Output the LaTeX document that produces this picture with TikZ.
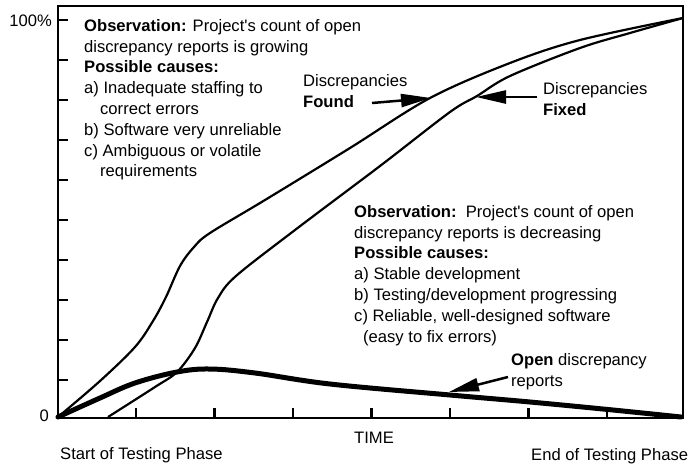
\documentclass[tikz,border=0pt]{standalone}
\usepackage{fontspec}
\setmainfont{Liberation Sans}
\usepackage{tikz}
\usetikzlibrary{arrows.meta}

\begin{document}
\begin{tikzpicture}[x=1pt,y=-1pt]
% Styles (MODIFIABLES)
\tikzstyle{cadre}=[line width=2.5pt]
\tikzstyle{graduation}=[line width=2.5pt]
\tikzstyle{courbe}=[line width=2.2pt,line join=round]
\tikzstyle{ouverts}=[line width=5pt,line cap=round]
\tikzstyle{fleche}=[-{Triangle[length=30pt,width=13pt]},line width=2.5pt]
\tikzstyle{texte}=[inner sep=0pt,align=left,font=\fontsize{16.6}{20.8}\selectfont]
\tikzstyle{etiquette}=[inner sep=0pt,font=\fontsize{16.6}{20.8}\selectfont]
% Dimensions (MODIFIABLES)
\def\Gauche{58}
\def\Droite{683}
\def\Haut{6}
\def\Bas{418}
\def\Tiret{10}
\useasboundingbox (0,0) rectangle (689,464);
% Cadre et graduations
\draw[cadre] (\Gauche,\Haut) rectangle (\Droite,\Bas);
\foreach \y in {20,60,...,380} \draw[graduation] (\Gauche,\y) -- ++(\Tiret,0);
\foreach \k in {0,...,6} \draw[graduation] ({136+78.5*\k},\Bas) -- ++(0,-\Tiret);
% Etiquettes des axes
\node[etiquette,anchor=base east] (Cent) at (52,26) {100\%};
\node[etiquette,anchor=base east] (Zero) at (49,421) {0};
\node[etiquette,anchor=base west] (Temps) at (354,443) {TIME};
\node[etiquette,anchor=base west] (Debut) at (60,459) {Start of Testing Phase};
\node[etiquette,anchor=base west] (Fin) at (531,460) {End of Testing Phase};
% Courbes
\draw[courbe] plot[smooth,tension=0.55] coordinates {(58,417) (100,381) (135,347) (153,321) (166,297) (180,266) (194,247) (210,233) (265,200) (350,148) (430,98) (510,63) (580,40) (683,18)};
\draw[courbe] plot[smooth,tension=0.55] coordinates {(108,417) (155,387) (177,372) (195,348) (207,322) (218,298) (236,276) (295,230) (380,166) (450,112) (477,96) (510,76) (580,48) (630,33) (683,18)};
\draw[ouverts] plot[smooth,tension=0.6] coordinates {(58,417) (100,398) (135,383) (177,372) (210,369) (255,373) (330,384) (450,395) (530,402) (613,410) (681,417)};
% Textes
\node[texte,anchor=north west] (ObsCroissant) at (84,19) {\textbf{Observation:} Project\textquotesingle s count of open\\
discrepancy reports is growing\\
\textbf{Possible causes:}\\
a) Inadequate staffing to\\
\hspace*{16pt}correct errors\\
b) Software very unreliable\\
c) Ambiguous or volatile\\
\hspace*{16pt}requirements};
\node[texte,anchor=north west] (ObsDecroissant) at (354,205) {\textbf{Observation:}\ \ Project\textquotesingle s count of open\\
discrepancy reports is decreasing\\
\textbf{Possible causes:}\\
a) Stable development\\
b) Testing/development progressing\\
c) Reliable, well-designed software\\
\hspace*{9pt}(easy to fix errors)};
\node[texte,anchor=north west] (Trouvees) at (303,74) {Discrepancies\\\textbf{Found}};
\node[texte,anchor=north west] (Corrigees) at (543,82) {Discrepancies\\\textbf{Fixed}};
\node[texte,anchor=north west] (Ouverts) at (511,353) {\textbf{Open} discrepancy\\reports};
% Fleches
\coordinate (QueueTrouvees) at (372,103);
\coordinate (PointeTrouvees) at (431,98);
\coordinate (QueueCorrigees) at (537,97);
\coordinate (PointeCorrigees) at (476,97);
\coordinate (QueueOuverts) at (508,377);
\coordinate (PointeOuverts) at (449,392);
\draw[fleche] (QueueTrouvees)--(PointeTrouvees);
\draw[fleche] (QueueCorrigees)--(PointeCorrigees);
\draw[fleche] (QueueOuverts)--(PointeOuverts);
\end{tikzpicture}
\end{document}
